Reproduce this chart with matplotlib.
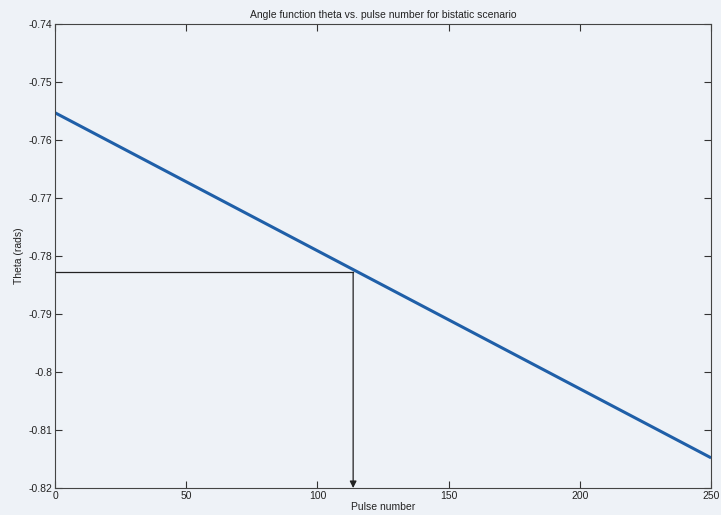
import matplotlib
matplotlib.use("Agg")
import matplotlib.pyplot as plt
from matplotlib.ticker import FuncFormatter

# Data
pulse = [0, 50, 100, 150, 200, 250]
theta = [-0.7553, -0.7672, -0.7791, -0.7910, -0.8029, -0.8148]
marker_pulse = 113.6
marker_theta = -0.7828
x_ticks = [0, 50, 100, 150, 200, 250]
y_ticks = [-0.74, -0.75, -0.76, -0.77, -0.78, -0.79, -0.80, -0.81, -0.82]

plt.rcParams['font.family'] = ['Liberation Sans', 'DejaVu Sans']
plt.rcParams['axes.unicode_minus'] = False

bg = '#eef2f7'
fig = plt.figure(figsize=(7.21, 5.15), dpi=100, facecolor=bg)
ax = fig.add_axes([0.0763, 0.0524, 0.910, 0.901], facecolor=bg)

ax.plot(pulse, theta, color='#1f5fa8', lw=2.2, solid_capstyle='butt')

# marker lines
ax.plot([0, marker_pulse], [marker_theta, marker_theta], color='#222222', lw=0.9)
ax.annotate('', xy=(marker_pulse, -0.82), xytext=(marker_pulse, marker_theta),
            arrowprops=dict(arrowstyle='-|>', color='#222222', lw=0.9,
                            mutation_scale=10, shrinkA=0, shrinkB=0))

ax.set_xlim(0, 250)
ax.set_ylim(-0.82, -0.74)
ax.set_xticks(x_ticks)
ax.set_yticks(y_ticks)
ax.yaxis.set_major_formatter(FuncFormatter(lambda v, p: '%g' % round(v, 2)))
ax.tick_params(direction='in', top=True, right=True, labelsize=7.5, length=5,
               width=0.8, colors='#333333', labelcolor='#222222', pad=2)
for s in ax.spines.values():
    s.set_color('#444444')
    s.set_linewidth(0.8)

ax.set_title('Angle function theta vs. pulse number for bistatic scenario',
             fontsize=7.5, color='#222222', pad=4)
ax.set_xlabel('Pulse number', fontsize=7.5, color='#222222', labelpad=1)
ax.set_ylabel('Theta (rads)', fontsize=7.5, color='#222222', labelpad=3)

fig.savefig('out.png', dpi=100, facecolor=bg)
